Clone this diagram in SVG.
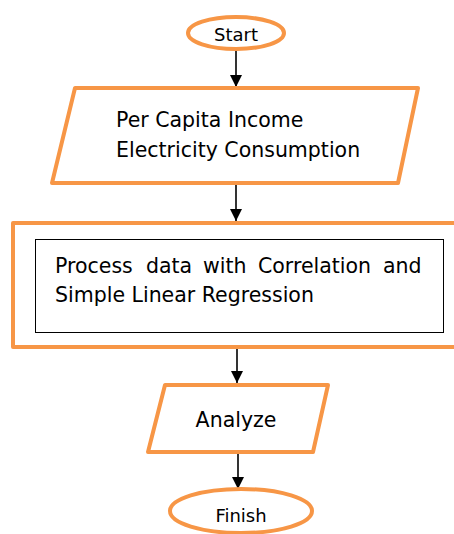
<svg xmlns="http://www.w3.org/2000/svg" width="454" height="534" viewBox="0 0 454 534">
  <defs>
    <marker id="arrow" viewBox="0 0 12 12" markerWidth="12" markerHeight="12" refX="12" refY="6" orient="auto" markerUnits="userSpaceOnUse">
      <path d="M0,0 L12,6 L0,12 Z" fill="#000"/>
    </marker>
  </defs>
  <style>
    .shape { fill: #fff; stroke: #F79646; stroke-width: 4; stroke-linejoin: round; }
    .inner { fill: #fff; stroke: #000; stroke-width: 1; }
    .label { font-family: "DejaVu Sans", Verdana, sans-serif; font-size: 20.5px; fill: #000; }
    .small { font-size: 18px; }
    .edge { stroke: #000; stroke-width: 1.6; fill: none; marker-end: url(#arrow); }
  </style>
  <rect width="454" height="534" fill="#fff"/>

  <g id="connectors">
    <line class="edge" x1="236" y1="49" x2="236" y2="87"/>
    <line class="edge" x1="236" y1="184" x2="236" y2="221"/>
    <line class="edge" x1="237" y1="348" x2="237" y2="383"/>
    <line class="edge" x1="238" y1="453" x2="238" y2="489"/>
  </g>

  <g id="start">
    <ellipse class="shape" cx="236" cy="33" rx="48" ry="16"/>
    <text class="label small" x="236" y="41" text-anchor="middle">Start</text>
  </g>

  <g id="input">
    <polygon class="shape" points="75,88 418,88 398,183 52,183"/>
    <text class="label" x="116" y="127">Per Capita Income</text>
    <text class="label" x="116" y="157">Electricity Consumption</text>
  </g>

  <g id="process">
    <rect class="shape" x="13" y="223" width="460" height="124"/>
    <rect class="inner" x="35.5" y="239.5" width="408" height="93"/>
    <!-- justified first line: words placed individually -->
    <text class="label" y="273">
      <tspan x="55">Process</tspan>
      <tspan x="146">data</tspan>
      <tspan x="203">with</tspan>
      <tspan x="258">Correlation</tspan>
      <tspan x="383">and</tspan>
    </text>
    <text class="label" x="55" y="302">Simple Linear Regression</text>
  </g>

  <g id="analyze">
    <polygon class="shape" points="165,385 328,385 313,452 148,452"/>
    <text class="label" x="236" y="427" text-anchor="middle">Analyze</text>
  </g>

  <g id="finish">
    <ellipse class="shape" cx="241" cy="511" rx="71" ry="22"/>
    <text class="label small" x="241" y="522" text-anchor="middle">Finish</text>
  </g>
</svg>
